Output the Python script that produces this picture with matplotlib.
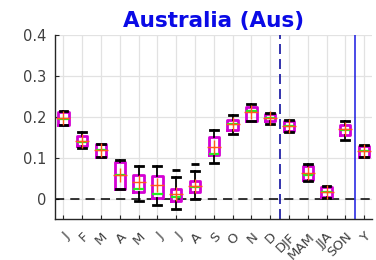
import matplotlib
matplotlib.use("Agg")
import matplotlib.pyplot as plt

labels = ["J", "F", "M", "A", "M", "J", "J", "A", "S", "O", "N", "D",
          "DJF", "MAM", "JJA", "SON", "Y"]
q1 = [0.182, 0.129, 0.104, 0.025, 0.018, 0.002, -0.004, 0.018, 0.109, 0.169,
      0.191, 0.190, 0.167, 0.048, 0.006, 0.157, 0.104]
q3 = [0.212, 0.153, 0.135, 0.092, 0.060, 0.056, 0.026, 0.044, 0.151, 0.194,
      0.225, 0.207, 0.190, 0.080, 0.030, 0.182, 0.129]
med = [0.196, 0.139, 0.120, 0.060, 0.024, 0.014, 0.006, 0.031, 0.111, 0.183,
       0.215, 0.198, 0.178, 0.060, 0.018, 0.168, 0.118]
mean = [0.198, 0.142, 0.120, 0.058, 0.042, 0.034, 0.012, 0.033, 0.128, 0.184,
        0.212, 0.199, 0.179, 0.065, 0.018, 0.170, 0.118]
whislo = [0.180, 0.124, 0.102, 0.024, -0.003, -0.013, -0.024, 0.001, 0.088, 0.159,
          0.190, 0.183, 0.165, 0.044, 0.004, 0.145, 0.102]
whishi = [0.214, 0.165, 0.135, 0.096, 0.082, 0.082, 0.055, 0.069, 0.169, 0.206,
          0.232, 0.210, 0.193, 0.085, 0.033, 0.191, 0.132]
fliers = [[], [], [], [], [], [], [0.072], [0.086], [], [], [], [], [], [], [], [], []]
yticks = [0, 0.1, 0.2, 0.3, 0.4]
ytick_labels = ["0", "0.1", "0.2", "0.3", "0.4"]
title = "Australia (Aus)"

stats = []
for i in range(len(labels)):
    stats.append(dict(label=labels[i], q1=q1[i], q3=q3[i], med=med[i], mean=mean[i],
                      whislo=whislo[i], whishi=whishi[i], fliers=fliers[i]))

positions = list(range(1, len(labels) + 1))

fig = plt.figure(figsize=(3.76, 2.60), dpi=100)
ax = fig.add_axes([55 / 376, 1 - 219 / 260, (372 - 55) / 376, (219 - 35) / 260])

ax.set_axisbelow(True)
ax.grid(True, color="#e2e2e2", linewidth=0.9)

ax.axhline(0, color="black", linestyle=(0, (6, 4)), linewidth=1.1, zorder=1)
ax.axvline(12.5, color="#1010a0", linestyle=(0, (6, 3)), linewidth=1.2, zorder=1)
ax.axvline(16.5, color="#1a1ae0", linestyle="-", linewidth=1.1, zorder=1)

ax.bxp(stats, positions=positions, widths=0.55, showmeans=True, meanline=False,
       showfliers=True, patch_artist=False, capwidths=0.42,
       boxprops=dict(color="#d400d4", linewidth=2.0),
       whiskerprops=dict(color="black", linewidth=1.3),
       capprops=dict(color="black", linewidth=2.0),
       medianprops=dict(color="#22ee22", linewidth=1.6),
       meanprops=dict(marker="+", markersize=10, markeredgecolor="#ff5a1a",
                      markeredgewidth=1.0, markerfacecolor="none"),
       flierprops=dict(marker="_", markersize=6, markeredgecolor="black",
                       markeredgewidth=2.0))

ax.set_xlim(0.55, 17.42)
ax.set_ylim(-0.048, 0.4)
ax.set_yticks(yticks)
ax.set_yticklabels(ytick_labels)
ax.set_xticks(positions)
ax.set_xticklabels(labels, rotation=45, rotation_mode="anchor", ha="right", va="top")

for s in ["top", "right"]:
    ax.spines[s].set_visible(False)
for s in ["left", "bottom"]:
    ax.spines[s].set_color("#262626")
    ax.spines[s].set_linewidth(1.0)

ax.tick_params(axis="both", direction="in", length=3, colors="#262626",
               labelcolor="#404040")
ax.tick_params(axis="x", pad=8, labelsize=9.5)
ax.tick_params(axis="y", pad=6, labelsize=10.5)

ax.set_title(title, color="#0a0ae6", fontweight="bold", fontsize=15.5, pad=6)

fig.savefig("out.png", dpi=100)
